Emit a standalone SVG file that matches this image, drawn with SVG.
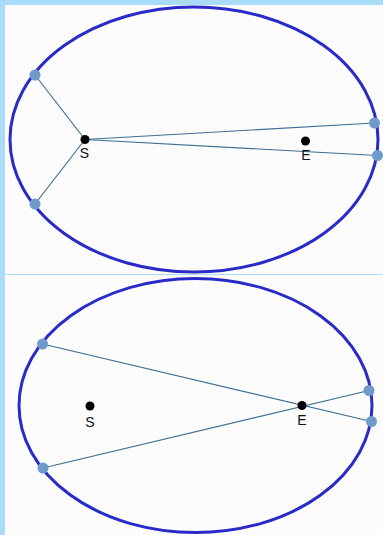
<svg xmlns="http://www.w3.org/2000/svg" width="383" height="535" viewBox="0 0 383 535">
<style>
.orbit{fill:none;stroke:#2a2ac8;stroke-width:3}
.ray{stroke:#3f6f94;stroke-width:1.2;fill:none}
.pt{fill:#6f9acc}
.body{fill:#000}
.lbl{font-family:"Liberation Sans",Arial,sans-serif;font-size:14px;fill:#111;text-anchor:middle}
</style>
<rect x="0" y="0" width="383" height="535" fill="#a8dcf8"/>
<rect x="5" y="5" width="378" height="269" fill="#fcfcfc"/>
<rect x="5" y="275" width="378" height="260" fill="#fcfcfc"/>
<g id="top-panel">
<g id="orbit-top"><ellipse class="orbit" cx="194" cy="139.5" rx="184" ry="132.5"/></g>
<g id="connectors-top">
<line class="ray" x1="85" y1="139.5" x2="35" y2="75"/>
<line class="ray" x1="85" y1="139.5" x2="35" y2="204"/>
<line class="ray" x1="85" y1="139.5" x2="374.5" y2="123"/>
<line class="ray" x1="85" y1="139.5" x2="377.5" y2="155.5"/>
</g>
<g id="sun-top"><circle class="body" cx="85" cy="139.5" r="4.5"/><text class="lbl" x="84.5" y="158">S</text></g>
<g id="empty-focus-top"><circle class="body" cx="305.5" cy="141" r="4.5"/><text class="lbl" x="306" y="160">E</text></g>
<g id="p1-top"><circle class="pt" cx="35" cy="75" r="5.5"/></g>
<g id="p2-top"><circle class="pt" cx="35" cy="204" r="5.5"/></g>
<g id="p3-top"><circle class="pt" cx="374.5" cy="123" r="5.5"/></g>
<g id="p4-top"><circle class="pt" cx="377.5" cy="155.5" r="5.5"/></g>
</g>
<g id="bottom-panel">
<g id="orbit-bottom"><ellipse class="orbit" cx="195.5" cy="405.5" rx="176.5" ry="127"/></g>
<g id="connectors-bottom">
<line class="ray" x1="42.5" y1="344" x2="371.5" y2="421.5"/>
<line class="ray" x1="43" y1="468" x2="369" y2="390.5"/>
</g>
<g id="sun-bottom"><circle class="body" cx="90" cy="406" r="4.5"/><text class="lbl" x="90" y="427">S</text></g>
<g id="empty-focus-bottom"><circle class="body" cx="302" cy="405.5" r="4.5"/><text class="lbl" x="302" y="425">E</text></g>
<g id="p1-bottom"><circle class="pt" cx="42.5" cy="344" r="5.5"/></g>
<g id="p2-bottom"><circle class="pt" cx="43" cy="468" r="5.5"/></g>
<g id="p3-bottom"><circle class="pt" cx="369" cy="390.5" r="5.5"/></g>
<g id="p4-bottom"><circle class="pt" cx="371.5" cy="421.5" r="5.5"/></g>
</g>
</svg>
